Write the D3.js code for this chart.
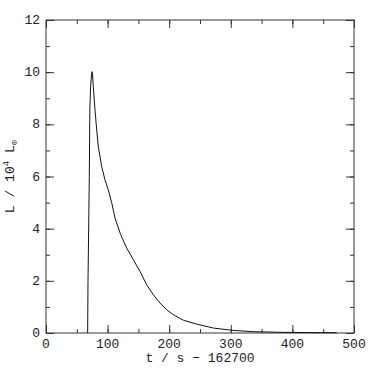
<!DOCTYPE html>
<html>
<head>
<meta charset="utf-8">
<script src="https://cdn.jsdelivr.net/npm/d3@7"></script>
<style>
  body { margin: 0; background: #fff; }
  svg text { font-family: "Liberation Mono", "DejaVu Sans Mono", monospace; fill: #222; }
</style>
</head>
<body>
<div id="chart"></div>
<script>
// light curve
const tValues = [67.6, 68.2, 70.3, 71.2, 72.5, 74.5, 75.5, 76.8, 79.5, 82.3, 84.9, 90.4, 95.8, 101.1, 106.7,
    112, 121.2, 131, 141.8, 152.6, 163.4, 174.2, 185, 195.9, 206.7, 223, 244.6, 271.6, 304, 336.6, 385, 430, 472];
const lValues = [0, 1.98, 6.0, 8.6, 9.5, 10.02, 9.95, 9.45, 8.56, 7.79, 7.15, 6.38, 5.87, 5.49, 4.99,
    4.41, 3.77, 3.26, 2.81, 2.36, 1.85, 1.47, 1.15, 0.89, 0.70, 0.49, 0.34, 0.19, 0.10, 0.05, 0.025, 0.015, 0.01];
const xTicks = [0, 100, 200, 300, 400, 500];
const yTicks = [0, 2, 4, 6, 8, 10, 12];

const data = tValues.map((t, i) => ({t: t, L: lValues[i]}));

const W = 374, H = 374;
const margin = {top: 20, right: 20, bottom: 41, left: 46};
const width = W - margin.left - margin.right,
    height = H - margin.top - margin.bottom;

const svg = d3.select("#chart").append("svg")
    .attr("width", W)
    .attr("height", H);
const g = svg.append("g")
    .attr("transform", `translate(${margin.left},${margin.top})`);

const x = d3.scaleLinear().domain([0, 500]).range([0, width]);
const y = d3.scaleLinear().domain([0, 12]).range([height, 0]);

// inward ticks on all sides, major + minor
function ticks(axis, scale, vals, len) {
    return axis(scale).tickValues(vals).tickSize(len).tickSizeOuter(0).tickFormat("");
}
const xMinor = d3.range(0, 501, 50), yMinor = d3.range(0, 13, 1);

g.append("g").attr("transform", `translate(0,${height})`).call(ticks(d3.axisTop, x, xMinor, 4));
g.append("g").attr("transform", `translate(0,${height})`).call(ticks(d3.axisTop, x, xTicks, 8));
g.append("g").call(ticks(d3.axisBottom, x, xMinor, 4));
g.append("g").call(ticks(d3.axisBottom, x, xTicks, 8));
g.append("g").call(ticks(d3.axisRight, y, yMinor, 4));
g.append("g").call(ticks(d3.axisRight, y, yTicks, 8));
g.append("g").attr("transform", `translate(${width},0)`).call(ticks(d3.axisLeft, y, yMinor, 4));
g.append("g").attr("transform", `translate(${width},0)`).call(ticks(d3.axisLeft, y, yTicks, 8));
g.selectAll(".domain").remove();
g.selectAll(".tick line").attr("stroke", "#333");

// tick labels
g.selectAll(".xlab").data(xTicks).enter().append("text")
    .attr("x", d => x(d))
    .attr("y", height + 15)
    .attr("text-anchor", "middle")
    .style("font-size", "13px")
    .text(d => d);
g.selectAll(".ylab").data(yTicks).enter().append("text")
    .attr("x", -6)
    .attr("y", d => y(d) + 4)
    .attr("text-anchor", "end")
    .style("font-size", "13px")
    .text(d => d);

// frame
g.append("rect")
    .attr("width", width)
    .attr("height", height)
    .attr("fill", "none")
    .attr("stroke", "#333");

// curve
g.append("path")
    .datum(data)
    .attr("fill", "none")
    .attr("stroke", "#111")
    .attr("stroke-width", 1)
    .attr("d", d3.line().x(d => x(d.t)).y(d => y(d.L)));

// axis titles
svg.append("text")
    .attr("x", margin.left + width / 2)
    .attr("y", 362)
    .attr("text-anchor", "middle")
    .style("font-size", "13px")
    .text("t / s \u2212 162700");

const yt = svg.append("text")
    .attr("transform", `translate(14,${margin.top + height / 2}) rotate(-90)`)
    .attr("text-anchor", "middle")
    .style("font-size", "13px");
yt.append("tspan").text("L / 10");
yt.append("tspan").attr("dy", -5).style("font-size", "9px").text("4");
yt.append("tspan").attr("dy", 5).text(" L");
yt.append("tspan").attr("dy", 3).style("font-size", "9px").text("\u2299");
</script>
</body>
</html>
